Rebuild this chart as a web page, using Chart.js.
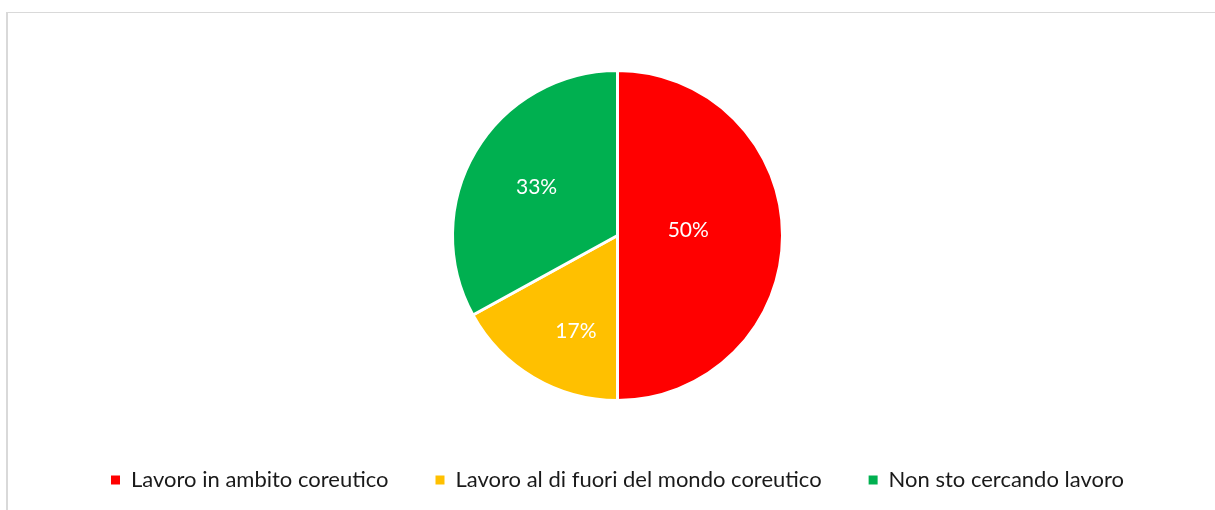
<!DOCTYPE html>
<html>
<head>
<meta charset="utf-8">
<script src="https://cdn.jsdelivr.net/npm/chart.js@4/dist/chart.umd.min.js"></script>
<style>
	html, body { margin: 0; padding: 0; background: #fff; overflow: hidden; }
	#frame {
		position: absolute; left: 6px; top: 12px; width: 1209px; height: 540px;
		border-top: 1px solid #d9d9d9; border-left: 2px solid #d9d9d9;
	}
	#wrap { position: absolute; left: 0; top: 0; width: 1207px; height: 488px; }
</style>
</head>
<body>
<div id="frame"><div id="wrap"><canvas id="chart"></canvas></div></div>
<script>
const categories = ['Lavoro in ambito coreutico', 'Lavoro al di fuori del mondo coreutico', 'Non sto cercando lavoro'];
const shares = [50, 17, 33];
const sliceColors = ['#FF0000', '#FFC000', '#00B050'];
// where each percentage sits: fraction of the radius, and a turn (degrees) away from the slice middle
const labelRadius = [0.43, 0.63, 0.57];
const labelTurn = [-4.5, -7, 0];

const FONT = "Lato, 'Open Sans', sans-serif";

const sliceLabels = {
	id: 'sliceLabels',
	afterDatasetsDraw(chart) {
		const ctx = chart.ctx;
		const meta = chart.getDatasetMeta(0);
		ctx.save();
		ctx.fillStyle = '#ffffff';
		ctx.font = '21px ' + FONT;
		ctx.textAlign = 'center';
		ctx.textBaseline = 'middle';
		meta.data.forEach((arc, i) => {
			const p = arc.getProps(['x', 'y', 'startAngle', 'endAngle', 'outerRadius'], true);
			const a = (p.startAngle + p.endAngle) / 2 + labelTurn[i] * Math.PI / 180;
			const r = p.outerRadius * labelRadius[i];
			ctx.fillText(shares[i] + '%', p.x + Math.cos(a) * r, p.y + Math.sin(a) * r);
		});
		ctx.restore();
	}
};

const pieLegendLabels = Chart.overrides.pie.plugins.legend.labels.generateLabels;

new Chart(document.getElementById('chart'), {
	type: 'pie',
	data: {
		labels: categories,
		datasets: [{
			data: shares,
			backgroundColor: sliceColors,
			borderColor: '#ffffff',
			borderWidth: 3,
			radius: 165,
		}],
	},
	options: {
		responsive: true,
		maintainAspectRatio: false,
		animation: false,
		layout: {
			padding: {top: 36, left: 12, right: 0, bottom: 0},
		},
		plugins: {
			tooltip: {enabled: false},
			legend: {
				position: 'bottom',
				labels: {
					boxWidth: 9,
					boxHeight: 9,
					padding: 47,
					color: '#1a1a1a',
					font: {family: FONT, size: 22},
					// plain squares, without the white slice border
					generateLabels: chart => pieLegendLabels(chart).map(l => ({...l, lineWidth: 0})),
				},
			},
		},
	},
	plugins: [sliceLabels],
});
</script>
</body>
</html>
